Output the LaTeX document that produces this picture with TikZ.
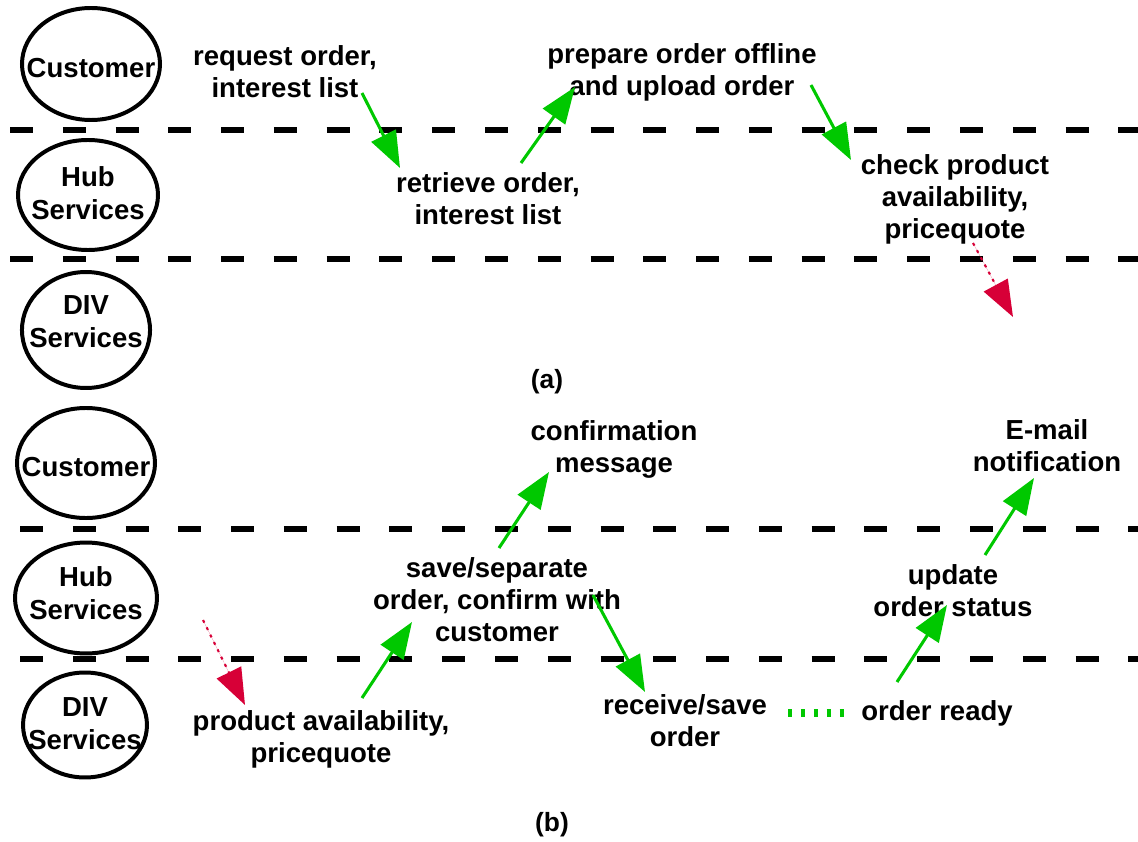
\documentclass[tikz,border=0pt]{standalone}
\usepackage{fontspec}
\setmainfont{Liberation Sans}
\usetikzlibrary{arrows.meta,shapes.geometric}
\definecolor{flowgreen}{RGB}{0,200,0}
\definecolor{flowred}{RGB}{215,0,55}

\begin{document}
\begin{tikzpicture}[x=0.03cm,y=-0.03cm,
  lane/.style={line width=4.3pt, dash pattern=on 19.6pt off 25.45pt},
  actor/.style={draw, ellipse, line width=3.4pt, inner sep=0pt},
  actorname/.style={align=center, inner sep=0pt, font=\fontsize{23.5}{28}\selectfont\bfseries},
  txt/.style={align=center, inner sep=0pt, font=\fontsize{23.5}{27.3}\selectfont\bfseries},
  caption/.style={inner sep=0pt, font=\fontsize{22.5}{26}\selectfont\bfseries},
  head/.style={-{Triangle[length=31pt,width=23pt]}},
  flow/.style={head, draw=flowgreen, fill=flowgreen, line width=2.6pt},
  query/.style={head, draw=flowred, fill=flowred, line width=1.8pt, dash pattern=on 2.5pt off 4.5pt},
  notice/.style={draw=flowgreen, line width=6pt, dash pattern=on 3.4pt off 7.6pt}]

\useasboundingbox (0,0) rectangle (1138,842);

% ---------- panel (a) ----------
\coordinate (a1w) at (10,130);  \coordinate (a1e) at (1138,130);
\coordinate (a2w) at (10,259);  \coordinate (a2e) at (1138,259);
\draw[lane] (a1w) -- (a1e);
\draw[lane] (a2w) -- (a2e);

\node[actor, minimum width=117.8pt, minimum height=95.6pt] (custA) at (91,64) {};
\node[actorname] (custAt) at (91,68) {Customer};
\node[actor, minimum width=119.5pt, minimum height=93.9pt] (hubA) at (88,195) {};
\node[actorname] (hubAt) at (88,193) {Hub\\Services};
\node[actor, minimum width=109.3pt, minimum height=99pt] (divA) at (86,330) {};
\node[actorname] (divAt) at (86,322) {DIV\\Services};

\node[txt] (request) at (285,72) {request order,\\interest list};
\node[txt] (retrieve) at (488,199) {retrieve order,\\interest list};
\node[txt] (prepare) at (682,72) {prepare order offline\\and upload order};
\node[txt] (check) at (955,199) {check product\\availability,\\pricequote};
\node[caption] (capA) at (547,382) {(a)};

\coordinate (reqOut) at (362,93);   \coordinate (retIn) at (400,168);
\coordinate (retOut) at (521,163);  \coordinate (prepIn) at (575,87);
\coordinate (prepOut) at (811,85);  \coordinate (chkIn) at (851,160);
\coordinate (chkOut) at (973,243);  \coordinate (divAIn) at (1013,317);
\draw[flow] (reqOut) -- (retIn);
\draw[flow] (retOut) -- (prepIn);
\draw[flow] (prepOut) -- (chkIn);
\draw[query] (chkOut) -- (divAIn);

% ---------- panel (b) ----------
\coordinate (b1w) at (20,529);  \coordinate (b1e) at (1138,529);
\coordinate (b2w) at (20,659);  \coordinate (b2e) at (1138,659);
\draw[lane] (b1w) -- (b1e);
\draw[lane] (b2w) -- (b2e);

\node[actor, minimum width=117.8pt, minimum height=93.9pt] (custB) at (86,463) {};
\node[actorname] (custBt) at (86,467) {Customer};
\node[actor, minimum width=121.2pt, minimum height=94.7pt] (hubB) at (86,598) {};
\node[actorname] (hubBt) at (86,593) {Hub\\Services};
\node[actor, minimum width=105.8pt, minimum height=89.6pt] (divB) at (85,725) {};
\node[actorname] (divBt) at (85,724) {DIV\\Services};

\node[txt] (confirm) at (614,449) {confirmation\\message};
\node[txt] (email) at (1047,446) {E-mail\\notification};
\node[txt] (save) at (497,600) {save/separate\\order, confirm with\\customer};
\node[txt] (update) at (953,591) {update\\order status};
\node[txt] (avail) at (321,739) {product availability,\\pricequote};
\node[txt] (receive) at (685,721) {receive/save\\order};
\node[txt] (ready) at (937,713) {order ready};
\node[caption] (capB) at (552,825) {(b)};

\coordinate (hubBOut) at (203,620);  \coordinate (availIn) at (245,705);
\coordinate (availOut) at (362,698); \coordinate (saveIn) at (412,622);
\coordinate (saveUp) at (499,548);   \coordinate (confIn) at (549,472);
\coordinate (saveDown) at (593,595); \coordinate (recvIn) at (645,692);
\coordinate (readyOut) at (897,682); \coordinate (updIn) at (947,605);
\coordinate (updOut) at (985,555);   \coordinate (mailIn) at (1034,478);
\coordinate (recvOut) at (788,713);  \coordinate (readyIn) at (848,713);
\draw[query] (hubBOut) -- (availIn);
\draw[flow] (availOut) -- (saveIn);
\draw[flow] (saveUp) -- (confIn);
\draw[flow] (saveDown) -- (recvIn);
\draw[flow] (readyOut) -- (updIn);
\draw[flow] (updOut) -- (mailIn);
\draw[notice] (recvOut) -- (readyIn);
\end{tikzpicture}
\end{document}
